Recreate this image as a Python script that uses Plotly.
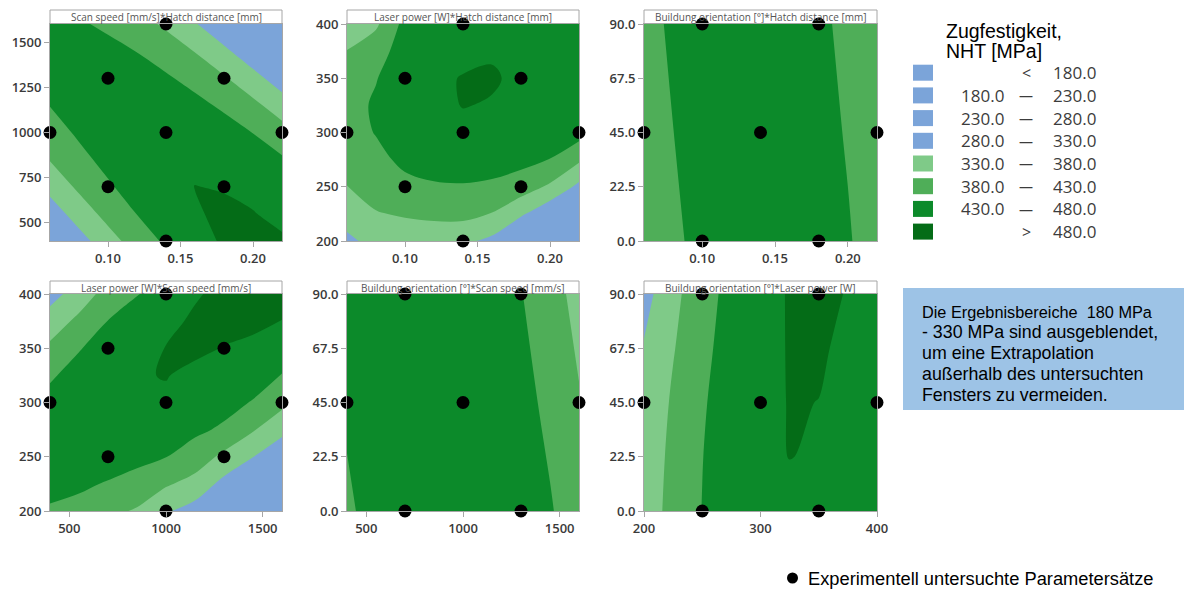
import plotly.graph_objects as go
from plotly.subplots import make_subplots

W, H = 1184, 592

# ---------------- data ----------------
hatch_nodes = [0.06, 0.08, 0.10, 0.12, 0.14, 0.16, 0.18, 0.20, 0.22]
scan_nodes = [400, 550, 700, 850, 1000, 1150, 1300, 1450, 1600]
power_nodes = [200, 225, 250, 275, 300, 325, 350, 375, 400]
orient_nodes3 = [0, 45, 90]
orient_nodes5 = [0, 22.5, 45, 67.5, 90]

# tensile strength estimates [MPa], rows = y nodes, cols = x nodes
z_scan_hatch = [
    [251, 310, 360, 403, 438, 468, 484, 490, 483],
    [303, 353, 396, 431, 458, 477, 486, 481, 474],
    [346, 389, 424, 451, 469, 480.5, 478, 474, 464],
    [382, 417, 444, 462, 473, 476, 470, 457, 436],
    [410, 437, 455, 466, 469, 463, 450, 429, 399],
    [431, 448, 459, 462, 456, 443, 422, 392, 355],
    [441, 452, 455, 449, 436, 415, 385, 348, 303],
    [445, 448, 442, 429, 408, 378, 341, 296, 243],
    [441, 435, 422, 401, 371, 334, 289, 236, 174],
]
z_power_hatch = [
    [320, 345, 350, 352, 340, 318, 260, 200, 170],
    [350, 377, 385, 390, 394, 378, 338, 290, 245],
    [379, 400, 418, 425, 426, 422, 405, 372, 318],
    [400, 418, 440, 450, 456, 450, 445, 429, 388],
    [412, 432, 452, 465, 472, 466, 460, 452, 450],
    [413, 436, 458, 472, 481, 478, 470, 462, 458],
    [400, 428, 458, 474, 481.5, 483, 474, 466, 462],
    [381, 410, 452, 470, 472, 477, 472, 466, 462],
    [355, 372, 445, 460, 462, 465, 466, 463, 460],
]
z_orient_hatch = [
    [390, 421, 444, 458, 465, 463, 453, 434, 408],
    [402, 429.5, 450, 462, 465, 460, 447, 426, 397],
    [413, 438, 455, 464, 464, 457, 441, 417, 384],
]
z_power_scan = [
    [425, 410, 392, 375, 335, 310, 260, 210, 170],
    [443, 441, 425, 412, 386, 362, 315, 270, 230],
    [455, 462, 462, 443, 431, 408, 368, 331, 290],
    [455, 466, 473, 470, 458, 439, 423, 384, 345],
    [445, 462, 474, 479, 476, 458, 446, 427, 393],
    [424, 448, 467, 478, 481, 474, 465, 452, 428],
    [390, 427, 452, 468, 481, 485, 479, 474, 458],
    [352, 392, 431, 452, 470, 486, 488, 486, 479.5],
    [312, 352, 400, 428, 448, 476, 490, 492, 490],
]
z_orient_scan = [
    [422, 448, 465, 475, 477, 470, 456, 434, 404],
    [437, 458, 471, 477, 474, 464, 445, 419, 384],
    [449, 466, 475, 476, 470, 455, 432, 401, 363],
]
z_orient_power = [
    [353, 396, 431, 455, 471, 476, 472, 459, 436],
    [347, 393, 429, 456, 473, 480.4, 478, 465, 443],
    [339, 387, 425, 454, 472, 481.1, 479.8, 469, 448],
    [334, 377, 418, 450, 471, 481.6, 482.4, 476, 454],
    [312, 367, 411, 445, 469, 482.1, 485, 479, 460],
]

# experimentally investigated parameter sets
pts_hatch_a = [0.14, 0.10, 0.18, 0.06, 0.14, 0.22, 0.10, 0.18, 0.14]
pts_scan_a = [1600, 1300, 1300, 1000, 1000, 1000, 700, 700, 400]
pts_hatch_b = [0.14, 0.10, 0.18, 0.06, 0.14, 0.22, 0.10, 0.18, 0.14]
pts_power_b = [400, 350, 350, 300, 300, 300, 250, 250, 200]
pts_hatch_c = [0.10, 0.18, 0.06, 0.14, 0.22, 0.10, 0.18]
pts_orient_c = [90, 90, 45, 45, 45, 0, 0]
pts_scan_d = [1000, 700, 1300, 400, 1000, 1600, 700, 1300, 1000]
pts_power_d = [400, 350, 350, 300, 300, 300, 250, 250, 200]
pts_scan_e = [700, 1300, 400, 1000, 1600, 700, 1300]
pts_orient_e = [90, 90, 45, 45, 45, 0, 0]
pts_power_f = [250, 350, 200, 300, 400, 250, 350]
pts_orient_f = [90, 90, 45, 45, 45, 0, 0]

panel_titles = [
    "Scan speed [mm/s]*Hatch distance [mm]",
    "Laser power [W]*Hatch distance [mm]",
    "Buildung orientation [°]*Hatch distance [mm]",
    "Laser power [W]*Scan speed [mm/s]",
    "Buildung orientation [°]*Scan speed [mm/s]",
    "Buildung orientation [°]*Laser power [W]",
]

levels = [330, 380, 430, 480]
legend_title = ["Zugfestigkeit,", "NHT [MPa]"]
legend_lo = ["", "180.0", "230.0", "280.0", "330.0", "380.0", "430.0", ""]
legend_sym = ["<", "—", "—", "—", "—", "—", "—", ">"]
legend_hi = ["180.0", "230.0", "280.0", "330.0", "380.0", "430.0", "480.0", "480.0"]

note_lines = [
    "Die Ergebnisbereiche\u00a0\u00a0180 MPa",
    "- 330 MPa sind ausgeblendet,",
    "um eine Extrapolation",
    "außerhalb des untersuchten",
    "Fensters zu vermeiden.",
]
note_sizes = [16.3, 17.8, 17.8, 17.8, 17.8]

# ---------------- styling ----------------
C_BLUE = "#7BA4D9"
C_LIGHT = "#7FCA88"
C_MED = "#4FAE58"
C_GREEN = "#0C8A2A"
C_DARK = "#046C17"
legend_colors = [C_BLUE, C_BLUE, C_BLUE, C_BLUE, C_LIGHT, C_MED, C_GREEN, C_DARK]

cscale = [
    [0.0, C_BLUE], [0.125, C_BLUE],
    [0.125, C_LIGHT], [0.375, C_LIGHT],
    [0.375, C_MED], [0.625, C_MED],
    [0.625, C_GREEN], [0.875, C_GREEN],
    [0.875, C_DARK], [1.0, C_DARK],
]


def px(x):
    return x / W


def py(y):
    return 1 - y / H


col_px = [(50, 282), (347, 579), (644, 877)]
row_px = [(24, 241), (294, 511)]
strip_top = [10, 281]

fig = make_subplots(rows=2, cols=3)

panels = [
    (hatch_nodes, scan_nodes, z_scan_hatch, pts_hatch_a, pts_scan_a, 1, 1),
    (hatch_nodes, power_nodes, z_power_hatch, pts_hatch_b, pts_power_b, 1, 2),
    (hatch_nodes, orient_nodes3, z_orient_hatch, pts_hatch_c, pts_orient_c, 1, 3),
    (scan_nodes, power_nodes, z_power_scan, pts_scan_d, pts_power_d, 2, 1),
    (scan_nodes, orient_nodes3, z_orient_scan, pts_scan_e, pts_orient_e, 2, 2),
    (power_nodes, orient_nodes5, z_orient_power, pts_power_f, pts_orient_f, 2, 3),
]

for xn, yn, zz, ptx, pty, r, c in panels:
    fig.add_trace(go.Contour(
        x=xn, y=yn, z=zz,
        autocontour=False,
        contours=dict(start=levels[0], end=levels[-1], size=levels[1] - levels[0],
                      coloring="fill", showlines=False),
        colorscale=cscale, zmin=305, zmax=505, showscale=False,
        line=dict(width=0, smoothing=1.0),
        hoverinfo="skip",
    ), row=r, col=c)
    fig.add_trace(go.Scatter(
        x=ptx, y=pty, mode="markers",
        marker=dict(color="black", size=13, line=dict(width=0)),
        cliponaxis=False, showlegend=False, hoverinfo="skip",
    ), row=r, col=c)

tickfont = dict(family="Open Sans", size=13, color="#3a3a3a", weight=600)
axis_common = dict(showgrid=False, zeroline=False, ticks="outside", ticklen=5,
                   tickcolor="#A6A6A6", showline=True, linecolor="#A6A6A6",
                   linewidth=1, mirror=True, tickfont=tickfont, automargin=False)

x_specs = [
    dict(range=[0.06, 0.22], tickvals=[0.10, 0.15, 0.20], tickformat=".2f"),
    dict(range=[0.06, 0.22], tickvals=[0.10, 0.15, 0.20], tickformat=".2f"),
    dict(range=[0.06, 0.22], tickvals=[0.10, 0.15, 0.20], tickformat=".2f"),
    dict(range=[400, 1600], tickvals=[500, 1000, 1500], tickformat="d"),
    dict(range=[400, 1600], tickvals=[500, 1000, 1500], tickformat="d"),
    dict(range=[200, 400], tickvals=[200, 300, 400], tickformat="d"),
]
y_specs = [
    dict(range=[400, 1600], tickvals=[500, 750, 1000, 1250, 1500], tickformat="d"),
    dict(range=[200, 400], tickvals=[200, 250, 300, 350, 400], tickformat="d"),
    dict(range=[0, 90], tickvals=[0, 22.5, 45, 67.5, 90], tickformat=".1f"),
    dict(range=[200, 400], tickvals=[200, 250, 300, 350, 400], tickformat="d"),
    dict(range=[0, 90], tickvals=[0, 22.5, 45, 67.5, 90], tickformat=".1f"),
    dict(range=[0, 90], tickvals=[0, 22.5, 45, 67.5, 90], tickformat=".1f"),
]

shapes = []
annotations = []
for i in range(6):
    r, c = divmod(i, 3)
    x0, x1 = col_px[c]
    y0, y1 = row_px[r]
    suffix = "" if i == 0 else str(i + 1)
    fig.layout["xaxis" + suffix].update(domain=[px(x0), px(x1)], **axis_common, **x_specs[i])
    fig.layout["yaxis" + suffix].update(domain=[py(y1), py(y0)], **axis_common, **y_specs[i])
    # title strip
    shapes.append(dict(type="rect", xref="paper", yref="paper", layer="below",
                       x0=px(x0), x1=px(x1), y0=py(y0), y1=py(strip_top[r]),
                       line=dict(color="#A6A6A6", width=1), fillcolor="white"))
    annotations.append(dict(xref="paper", yref="paper", x=px((x0 + x1) / 2),
                            y=py((strip_top[r] + y0) / 2), text=panel_titles[i],
                            showarrow=False, xanchor="center", yanchor="middle",
                            font=dict(family="Open Sans", size=10, color="#555555")))

# legend on the right
for i, t in enumerate(legend_title):
    annotations.append(dict(xref="paper", yref="paper", x=px(944), y=py(31 + i * 20.5),
                            text=t, showarrow=False, xanchor="left", yanchor="middle",
                            font=dict(family="Liberation Sans", size=19.5, color="black")))
leg_font = dict(family="Open Sans", size=17, color="#3c3c3c")
for i in range(8):
    yc = 72.7 + i * 22.7
    shapes.append(dict(type="rect", xref="paper", yref="paper",
                       x0=px(913), x1=px(933), y0=py(yc + 8), y1=py(yc - 8),
                       line=dict(width=0), fillcolor=legend_colors[i]))
    if legend_lo[i]:
        annotations.append(dict(xref="paper", yref="paper", x=px(1006), y=py(yc),
                                text=legend_lo[i], showarrow=False, xanchor="right",
                                yanchor="middle", font=leg_font))
    sym_size = 16 if legend_sym[i] in ("<", ">") else 14
    annotations.append(dict(xref="paper", yref="paper", x=px(1026), y=py(yc + 0.5),
                            text=legend_sym[i], showarrow=False, xanchor="center",
                            yanchor="middle",
                            font=dict(family="Open Sans", size=sym_size, color="#3c3c3c")))
    annotations.append(dict(xref="paper", yref="paper", x=px(1098), y=py(yc),
                            text=legend_hi[i], showarrow=False, xanchor="right",
                            yanchor="middle", font=leg_font))

# note box
shapes.append(dict(type="rect", xref="paper", yref="paper",
                   x0=px(903), x1=px(1184), y0=py(410), y1=py(288),
                   line=dict(width=0), fillcolor="#9DC3E6"))
for i, line in enumerate(note_lines):
    annotations.append(dict(xref="paper", yref="paper", x=px(920), y=py(311.5 + i * 20.8),
                            text=line, showarrow=False, xanchor="left", yanchor="middle",
                            font=dict(family="Liberation Sans", size=note_sizes[i], color="black")))

# bottom legend
shapes.append(dict(type="circle", xref="paper", yref="paper",
                   x0=px(787), x1=px(798), y0=py(583.5), y1=py(572.5),
                   line=dict(width=0), fillcolor="black"))
annotations.append(dict(xref="paper", yref="paper", x=px(806), y=py(578),
                        text="Experimentell untersuchte Parametersätze", showarrow=False,
                        xanchor="left", yanchor="middle",
                        font=dict(family="Liberation Sans", size=18.3, color="black")))

fig.update_layout(
    width=W, height=H,
    margin=dict(l=0, r=0, t=0, b=0, autoexpand=False),
    paper_bgcolor="white", plot_bgcolor="white",
    showlegend=False,
    shapes=shapes, annotations=annotations,
)

fig.write_html("out.html")
